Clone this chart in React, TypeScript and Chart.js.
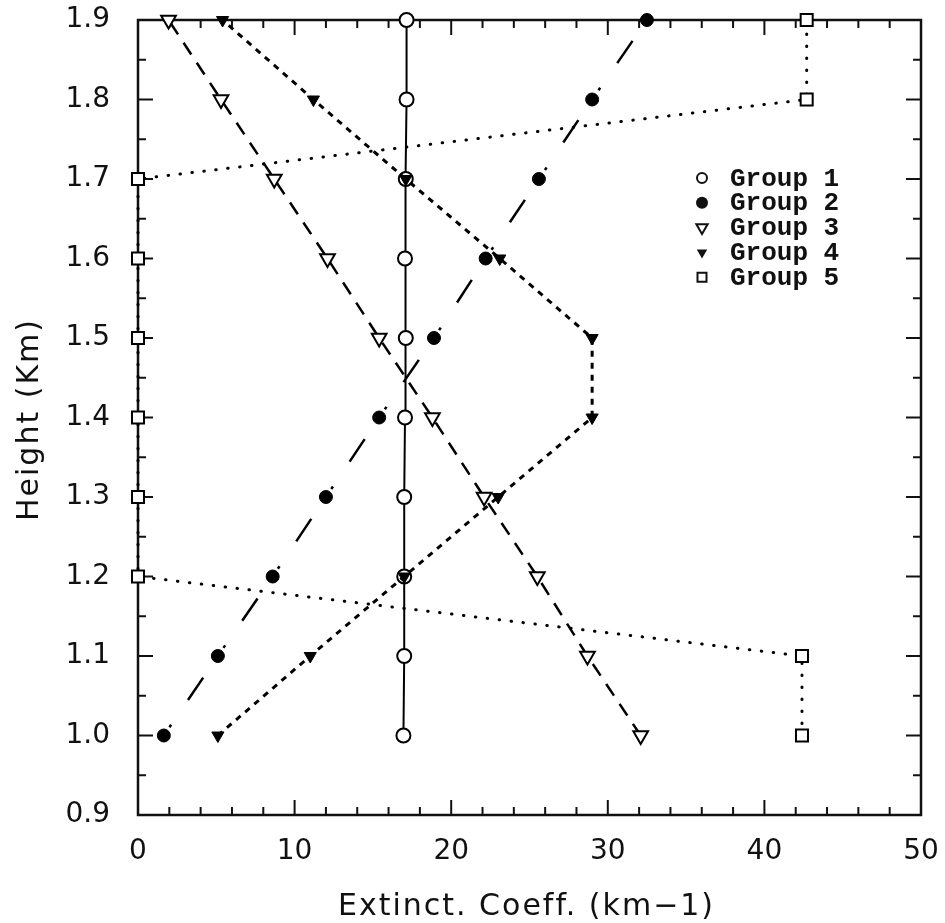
import React, { useEffect, useRef } from 'react';
import { Chart, registerables } from 'chart.js';

Chart.register(...registerables);

// ---- data ----
const heights = [1.0, 1.1, 1.2, 1.3, 1.4, 1.5, 1.6, 1.7, 1.8, 1.9];
const group1 = [16.95, 17.0, 17.0, 17.0, 17.05, 17.1, 17.05, 17.1, 17.15, 17.15];
const group2 = [1.65, 5.1, 8.6, 12.0, 15.4, 18.9, 22.2, 25.6, 29.0, 32.5];
const group3 = [32.1, 28.7, 25.5, 22.1, 18.8, 15.4, 12.1, 8.7, 5.3, 1.95];
const group4 = [5.1, 11.0, 17.0, 23.0, 29.0, 29.0, 23.1, 17.1, 11.2, 5.4];
const group5 = [42.4, 42.4, 0, 0, 0, 0, 0, 0, 42.7, 42.7];
const groupLabels = ['Group 1', 'Group 2', 'Group 3', 'Group 4', 'Group 5'];
const xTicks = [0, 10, 20, 30, 40, 50];
const yTicks = [0.9, 1.0, 1.1, 1.2, 1.3, 1.4, 1.5, 1.6, 1.7, 1.8, 1.9];
const xTitle = 'Extinct. Coeff. (km\u22121)';
const yTitle = 'Height (Km)';

const INK = '#111';

const pts = (xs: number[]) => xs.map((x, i) => ({ x, y: heights[i] }));

const frameTicks = {
  id: 'frameTicks',
  beforeDatasetsDraw(chart: any) {
    const { ctx, chartArea: a, scales } = chart;
    const xs = scales.x;
    const ys = scales.y;
    ctx.save();
    ctx.strokeStyle = INK;
    ctx.lineWidth = 2.5;
    ctx.strokeRect(a.left, a.top, a.right - a.left, a.bottom - a.top);
    ctx.lineWidth = 2;
    ctx.beginPath();
    // x ticks every 2, major every 10
    for (let k = 0; k <= 25; k++) {
      const v = xs.min + k * 2;
      const px = xs.getPixelForValue(v);
      const len = k % 5 === 0 ? 15 : 8;
      ctx.moveTo(px, a.bottom);
      ctx.lineTo(px, a.bottom - len);
      ctx.moveTo(px, a.top);
      ctx.lineTo(px, a.top + len);
    }
    // y ticks every 0.05, major every 0.1
    for (let k = 0; k <= 20; k++) {
      const v = ys.min + k * 0.05;
      const py = ys.getPixelForValue(v);
      const len = k % 2 === 0 ? 15 : 8;
      ctx.moveTo(a.left, py);
      ctx.lineTo(a.left + len, py);
      ctx.moveTo(a.right, py);
      ctx.lineTo(a.right - len, py);
    }
    ctx.stroke();
    ctx.restore();
  },
  afterDraw(chart: any) {
    const { ctx, chartArea: a } = chart;
    ctx.save();
    ctx.fillStyle = INK;
    // axis titles
    ctx.font = '30px "DejaVu Sans"';
    try { (ctx as any).letterSpacing = '2px'; } catch (e) {}
    ctx.textAlign = 'center';
    ctx.textBaseline = 'alphabetic';
    ctx.fillText(xTitle, (a.left + a.right) / 2 - 3, 915);
    ctx.save();
    ctx.translate(38, (a.top + a.bottom) / 2 + 2);
    ctx.rotate(-Math.PI / 2);
    ctx.fillText(yTitle, 0, 0);
    ctx.restore();
    try { (ctx as any).letterSpacing = '0px'; } catch (e) {}

    // legend
    const lx = 702;
    const tx = 730;
    const y0 = 178;
    const dy = 24.8;
    ctx.font = 'bold 26px "Liberation Mono"';
    ctx.textAlign = 'left';
    ctx.textBaseline = 'middle';
    ctx.strokeStyle = INK;
    ctx.lineWidth = 2;
    groupLabels.forEach((lab, i) => {
      const cy = y0 + i * dy;
      ctx.fillStyle = INK;
      ctx.fillText(lab, tx, cy + 1);
      ctx.beginPath();
      if (i === 0) {
        ctx.arc(lx, cy, 5, 0, Math.PI * 2);
        ctx.stroke();
      } else if (i === 1) {
        ctx.arc(lx, cy, 6, 0, Math.PI * 2);
        ctx.fill();
      } else if (i === 2 || i === 3) {
        const r = i === 2 ? 6.5 : 6;
        ctx.moveTo(lx - r * 0.87, cy - r * 0.5);
        ctx.lineTo(lx + r * 0.87, cy - r * 0.5);
        ctx.lineTo(lx, cy + r);
        ctx.closePath();
        if (i === 2) ctx.stroke(); else ctx.fill();
      } else {
        ctx.rect(lx - 4.5, cy - 4.5, 9, 9);
        ctx.stroke();
      }
    });
    ctx.restore();
  },
};

export default function App() {
  const ref = useRef<HTMLCanvasElement | null>(null);

  useEffect(() => {
    document.body.style.margin = '0';
    const canvas = ref.current;
    if (!canvas) return;
    const common = {
      showLine: true,
      borderColor: '#000',
      pointBorderColor: '#000',
      clip: false as any,
      fill: false,
      tension: 0,
    };
    const chart = new Chart(canvas, {
      type: 'scatter',
      data: {
        datasets: [
          {
            ...common,
            label: groupLabels[0],
            data: pts(group1),
            borderWidth: 2,
            pointStyle: 'circle',
            pointRadius: 7,
            pointBorderWidth: 2,
            pointBackgroundColor: '#fff',
            order: 1,
          },
          {
            ...common,
            label: groupLabels[1],
            data: pts(group2),
            borderWidth: 2.5,
            borderDash: [3, 30, 27, 36],
            borderDashOffset: 86,
            pointStyle: 'circle',
            pointRadius: 6.5,
            pointBorderWidth: 1,
            pointBackgroundColor: '#000',
            order: 1,
          },
          {
            ...common,
            label: groupLabels[2],
            data: pts(group3),
            borderWidth: 2.5,
            borderDash: [14, 10],
            pointStyle: 'triangle',
            pointRotation: 180,
            pointRadius: 8.5,
            pointBorderWidth: 2,
            pointBackgroundColor: '#fff',
            order: 1,
          },
          {
            ...common,
            label: groupLabels[3],
            data: pts(group4),
            borderWidth: 3,
            borderDash: [6, 6],
            pointStyle: 'triangle',
            pointRotation: 180,
            pointRadius: 7,
            pointBorderWidth: 1,
            pointBackgroundColor: '#000',
            order: 0,
          },
          {
            ...common,
            label: groupLabels[4],
            data: pts(group5),
            borderWidth: 3,
            borderDash: [0.5, 11.5],
            borderCapStyle: 'round',
            pointStyle: 'rect',
            pointRadius: 8.5,
            pointBorderWidth: 2,
            pointBackgroundColor: '#fff',
            order: 1,
          },
        ] as any,
      },
      options: {
        responsive: false,
        animation: false,
        devicePixelRatio: 1,
        layout: { padding: { left: 0, right: 24, top: 20, bottom: 0 } },
        plugins: {
          legend: { display: false },
          tooltip: { enabled: false },
          title: { display: false },
        },
        scales: {
          x: {
            type: 'linear',
            min: xTicks[0],
            max: xTicks[xTicks.length - 1],
            grid: { display: false },
            border: { display: false },
            afterBuildTicks: (s: any) => {
              s.ticks = xTicks.map((v) => ({ value: v }));
            },
            afterFit: (s: any) => {
              s.height = 108;
              s.paddingLeft = 0;
              s.paddingRight = 0;
            },
            ticks: {
              color: INK,
              padding: 12,
              maxRotation: 0,
              autoSkip: false,
              font: { family: '"DejaVu Sans"', size: 28 },
              callback: (v: any) => String(v),
            },
          },
          y: {
            type: 'linear',
            min: yTicks[0],
            max: yTicks[yTicks.length - 1],
            grid: { display: false },
            border: { display: false },
            afterBuildTicks: (s: any) => {
              s.ticks = yTicks.map((v) => ({ value: v }));
            },
            afterFit: (s: any) => {
              s.width = 138;
              s.paddingTop = 0;
              s.paddingBottom = 0;
            },
            ticks: {
              color: INK,
              padding: 20,
              autoSkip: false,
              font: { family: '"DejaVu Sans"', size: 28 },
              callback: (v: any) => Number(v).toFixed(1),
            },
          },
        },
      } as any,
      plugins: [frameTicks],
    });
    return () => chart.destroy();
  }, []);

  return (
    <div style={{ width: 945, height: 923, overflow: 'hidden', background: '#fff' }}>
      <canvas ref={ref} width={945} height={923} style={{ display: 'block' }} />
    </div>
  );
}
